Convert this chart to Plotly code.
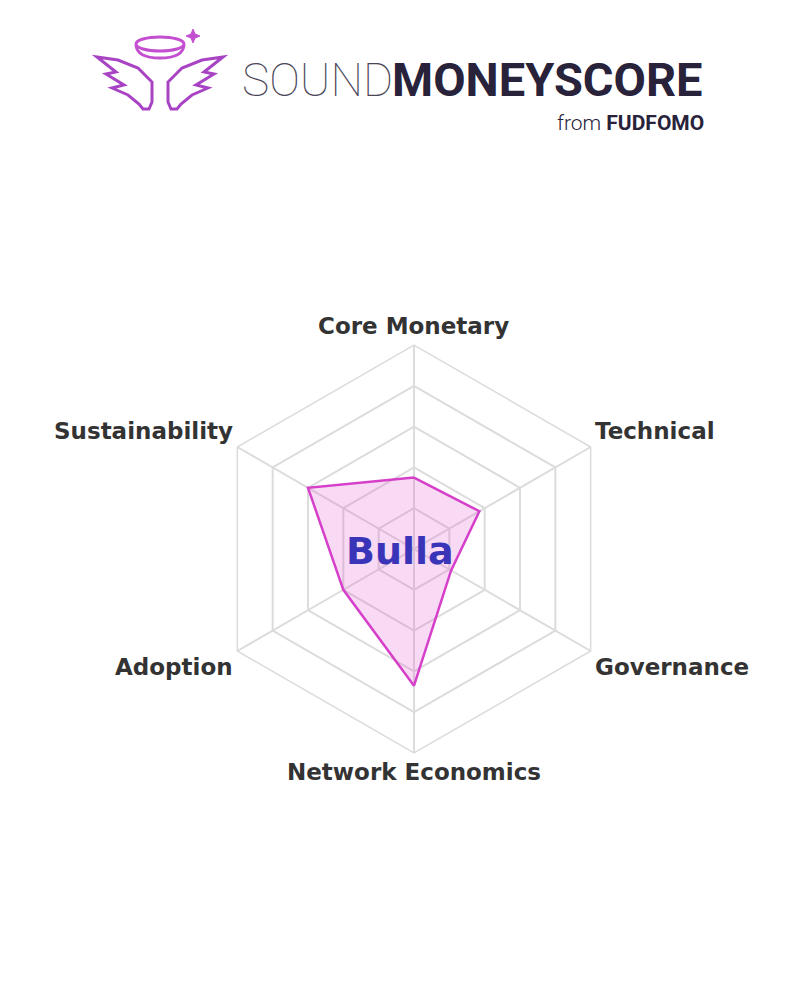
import math
import plotly.graph_objects as go

categories = ["Core Monetary", "Technical", "Governance", "Network Economics", "Adoption", "Sustainability"]
scores = [35, 37, 21, 67, 40, 60]
grid_ticks = [20, 40, 60, 80, 100]
project_name = "Bulla"

W, H = 800, 1000
OFF = 8  # page body margin offset in the screenshot
cx, cy, R = 414 - OFF, 549 - OFF, 204  # polar center / radius in px (from top-left)

fig = go.Figure()
fig.add_trace(go.Scatterpolar(
    r=scores + scores[:1],
    theta=categories + categories[:1],
    mode="lines",
    fill="toself",
    fillcolor="rgba(221,68,204,0.2)",
    line=dict(color="#d63fc9", width=2.5),
    hoverinfo="skip",
    showlegend=False,
))

grid_col = "#dcdcdc"
fig.update_layout(
    width=W, height=H,
    margin=dict(l=0, r=0, t=0, b=0),
    paper_bgcolor="white",
    plot_bgcolor="white",
    polar=dict(
        domain=dict(x=[(cx - R) / W, (cx + R) / W], y=[(H - cy - R) / H, (H - cy + R) / H]),
        bgcolor="white",
        gridshape="linear",
        radialaxis=dict(range=[0, 100], tickvals=grid_ticks, showticklabels=False, ticks="",
                        showline=False, gridcolor=grid_col, gridwidth=1.5),
        angularaxis=dict(rotation=90, direction="clockwise", gridcolor=grid_col, gridwidth=1.5,
                         linecolor=grid_col, linewidth=1.5, ticks="", showticklabels=False),
    ),
    font=dict(family="DejaVu Sans"),
)


def px(x):
    return (x - OFF) / W


def py(y):
    return (H - (y - OFF)) / H


# Category labels around the hexagon
n = len(categories)
for i, cat in enumerate(categories):
    th = math.radians(90 - 360 * i / n)
    ux, uy = math.cos(th), math.sin(th)
    vx, vy = cx + OFF + R * ux, cy + OFF - R * uy  # vertex in screen px
    if abs(ux) < 0.1:
        lx, ly, xa = vx, vy - 19 * (1 if uy > 0 else -1), "center"
    else:
        lx = vx + 2 * (1 if ux > 0 else -1)
        ly = vy - 16 * (1 if uy > 0 else -1)
        xa = "left" if ux > 0 else "right"
    fig.add_annotation(x=px(lx), y=py(ly), xref="paper", yref="paper", text="<b>" + cat + "</b>",
                       showarrow=False, xanchor=xa, yanchor="middle",
                       font=dict(family="DejaVu Sans", size=23, color="#333333"))

# Center label
fig.add_annotation(x=px(400), y=py(551), xref="paper", yref="paper", text="<b>" + project_name + "</b>",
                   showarrow=False, font=dict(family="DejaVu Sans", size=38, color="#3a35b8"),
                   xanchor="center", yanchor="middle")

# Header wordmark
fig.add_annotation(x=px(240), y=py(80), xref="paper", yref="paper", text="SOUND",
                   showarrow=False, font=dict(family="Roboto", size=46, color="#4a4658", weight=100),
                   xanchor="left", yanchor="middle")
fig.add_annotation(x=px(705), y=py(80), xref="paper", yref="paper", text="MONEYSCORE",
                   showarrow=False, font=dict(family="Roboto", size=47, color="#28223a", weight="bold"),
                   xanchor="right", yanchor="middle")
fig.add_annotation(x=px(706), y=py(123), xref="paper", yref="paper",
                   text="<span style='font-weight:300'>from </span><b>FUDFOMO</b>",
                   showarrow=False, font=dict(family="Roboto", size=21, color="#28223a"),
                   xanchor="right", yanchor="middle")


# Logo (decorative shapes, pixel coords converted to paper)
def P(x, y):
    return f"{px(x):.5f},{py(y):.5f}"


wing_col = "#a844c4"
halo_col = "#c44ed0"
left_wing = [(97, 57), (118, 60), (138, 68), (152, 82), (152, 102), (149, 109), (143, 109), (139, 104),
             (128, 95), (112, 88), (124, 85), (106, 74), (116, 72), (97, 57)]
for mirror in (False, True):
    pts = [((320 - x) if mirror else x, y) for x, y in left_wing]
    d = "M " + " L ".join(P(x, y) for x, y in pts) + " Z"
    fig.add_shape(type="path", path=d, xref="paper", yref="paper",
                  line=dict(color=wing_col, width=3), fillcolor="rgba(0,0,0,0)")
# halo
fig.add_shape(type="circle", xref="paper", yref="paper",
              x0=px(136), x1=px(184), y0=py(51), y1=py(37),
              line=dict(color=halo_col, width=3))
fig.add_shape(type="path", xref="paper", yref="paper",
              path=f"M {P(136, 45)} Q {P(137, 58)} {P(160, 58)} Q {P(183, 58)} {P(184, 45)}",
              line=dict(color=halo_col, width=3))
# star
s = [(193, 29), (195, 34), (200, 36), (195, 38), (193, 43), (191, 38), (186, 36), (191, 34)]
fig.add_shape(type="path", xref="paper", yref="paper",
              path="M " + " L ".join(P(x, y) for x, y in s) + " Z",
              line=dict(color=halo_col, width=1), fillcolor=halo_col)

fig.write_html("out.html")
